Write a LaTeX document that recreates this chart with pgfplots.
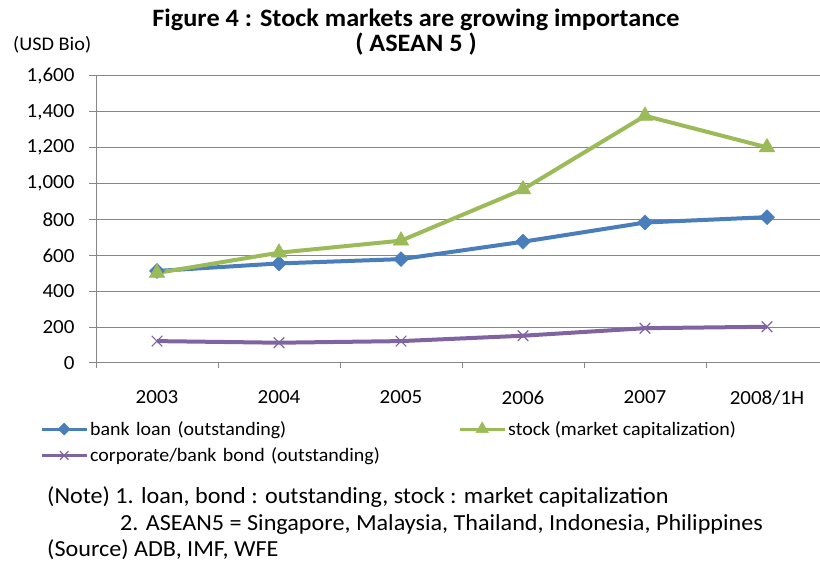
\documentclass[border=0pt]{standalone}
\usepackage{pgfplots}
\pgfplotsset{compat=1.18}
\usepackage{fontspec}
\setmainfont{Carlito}[FakeStretch=1.05]
\definecolor{cblue}{HTML}{4A7EBB}
\definecolor{cgreen}{HTML}{9BBB59}
\definecolor{cpurple}{HTML}{8064A2}
\definecolor{cgrid}{HTML}{868686}
\begin{document}
\begin{tikzpicture}[x=1bp,y=1bp]
\path[use as bounding box] (0,0) rectangle (820,561);
\begin{axis}[
  at={(96bp,198bp)}, anchor=south west, scale only axis,
  width=732bp, height=287bp,
  xmin=-0.5, xmax=5.5, ymin=0, ymax=1600,
  axis x line*=bottom, axis y line*=left,
  axis line style={cgrid, line width=1bp, -},
  xtick={0,...,5}, xticklabels={2003,2004,2005,2006,2007,2008/1H},
  major x tick style={draw=none},
  minor xtick={-0.5,0.5,1.5,2.5,3.5,4.5,5.5},
  minor x tick style={cgrid, line width=1bp},
  minor tick length=5bp,
  ytick={0,200,...,1600},
  y tick style={cgrid, line width=1bp},
  major tick length=7bp,
  tick align=outside,
  ymajorgrids, grid style={cgrid, line width=1bp},
  /pgf/number format/1000 sep={,},
  /pgf/number format/assume math mode=true,
  tick label style={font=\fontsize{20bp}{24bp}\selectfont, black},
  x tick label style={yshift=-17bp},
  y tick label style={xshift=-11bp},
  legend columns=2,
  legend cell align=left,
  legend style={at={(-0.0765,-0.196)}, anchor=north west, draw=none, fill=none, inner sep=0pt,
    font=\fontsize{19bp}{22bp}\selectfont, row sep=7bp,
    nodes={inner sep=2bp},
    /tikz/column 2/.style={text width=366bp}},
  legend image code/.code={\draw[mark repeat=2,mark phase=2,#1,line width=3bp,every mark/.append style={scale=0.8}] plot coordinates {(0bp,0bp)(22.5bp,0bp)(45bp,0bp)};},
  clip=false,
]
\addplot[cblue, line width=4bp, mark=square*, mark size=5.3bp, mark options={solid, rotate=45, fill=cblue, line width=0.5bp}]
  coordinates {(0,513)(1,555)(2,579)(3,676)(4,783)(5,813)};
\addlegendentry{bank loan (outstanding)}
\addplot[cgreen, line width=4bp, mark=triangle*, mark size=9bp, mark options={solid, fill=cgreen, line width=0.5bp}]
  coordinates {(0,502)(1,615)(2,682)(3,968)(4,1378)(5,1202)};
\addlegendentry{stock (market capitalization)}
\addplot[cpurple, line width=4bp, mark=x, mark size=7.5bp, mark options={solid, line width=1.2bp}]
  coordinates {(0,122)(1,113)(2,122)(3,152)(4,194)(5,202)};
\addlegendentry{corporate/bank bond (outstanding)}
\end{axis}
\node[anchor=base, inner sep=0pt, font=\fontsize{25bp}{30bp}\selectfont\bfseries] at (416,534) {Figure 4 : Stock markets are growing importance};
\node[anchor=base, inner sep=0pt, font=\fontsize{25bp}{30bp}\selectfont\bfseries] at (416,509) {( ASEAN 5 )};
\node[anchor=base west, inner sep=0pt, font=\fontsize{19.3bp}{23bp}\selectfont] at (13,510.5) {(USD Bio)};
\node[anchor=base west, inner sep=0pt, font=\fontsize{23bp}{27bp}\selectfont] at (47,57.5) {(Note) 1. loan, bond : outstanding, stock : market capitalization};
\node[anchor=base west, inner sep=0pt, font=\fontsize{23bp}{27bp}\selectfont] at (120,30.5) {2. ASEAN5 = Singapore, Malaysia, Thailand, Indonesia, Philippines};
\node[anchor=base west, inner sep=0pt, font=\fontsize{23bp}{27bp}\selectfont] at (47,4.5) {(Source) ADB, IMF, WFE};
\end{tikzpicture}
\end{document}
